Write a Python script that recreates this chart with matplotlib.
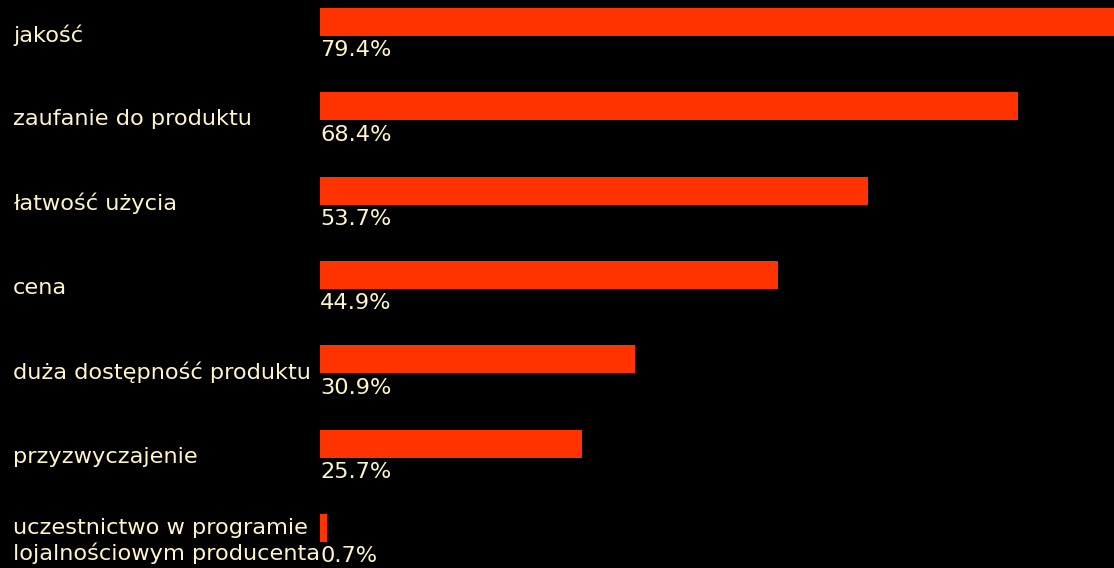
import matplotlib
matplotlib.use("Agg")
from matplotlib import pyplot as plt

kategorie = [
    "jakość",
    "zaufanie do produktu",
    "łatwość użycia",
    "cena",
    "duża dostępność produktu",
    "przyzwyczajenie",
    "uczestnictwo w programie\nlojalnościowym producenta",
]
procenty = [79.4, 68.4, 53.7, 44.9, 30.9, 25.7, 0.7]

tlo = "#000000"
kolor_slupka = "#FF3300"
kolor_tekstu = "#FFF5C8"
czcionka = dict(family="DejaVu Sans", fontsize=16.2)

fig = plt.figure(figsize=(11.14, 5.68), dpi=100, facecolor=tlo)
ax = fig.add_axes([320 / 1114, 0, 794 / 1114, 1])
ax.set_facecolor(tlo)

pozycje = list(range(len(kategorie)))
ax.barh(pozycje, procenty, height=0.332, color=kolor_slupka)

ax.set_xlim(0, 77.8)
ax.set_ylim(6.474, -0.261)
ax.axis("off")

for i, (nazwa, p) in enumerate(zip(kategorie, procenty)):
    # wartość procentowa pod słupkiem, od lewej krawędzi osi
    ax.annotate(f"{p:.1f}%", xy=(0, i + 0.166), xytext=(0, -3),
                textcoords="offset points", ha="left", va="top",
                color=kolor_tekstu, annotation_clip=False, **czcionka)
    # nazwa kategorii po lewej stronie
    y_fig = 1 - (22 + i * 84.33 + 13) / 568
    fig.text(13 / 1114, y_fig, nazwa, ha="left", va="center",
             color=kolor_tekstu, linespacing=1.25, **czcionka)

fig.savefig("out.png", dpi=100, facecolor=tlo)
